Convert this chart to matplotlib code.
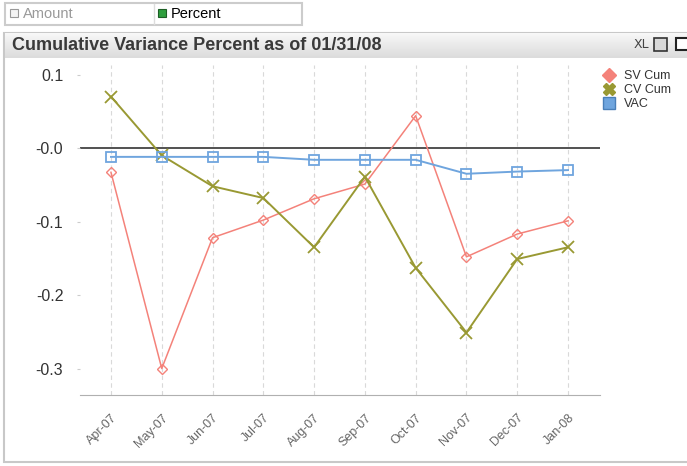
import matplotlib.pyplot as plt
import matplotlib.patches as mpatches
from matplotlib.lines import Line2D
import numpy as np

plt.rcParams['font.family'] = ['Liberation Sans', 'DejaVu Sans']

# datos
months = ["Apr-07", "May-07", "Jun-07", "Jul-07", "Aug-07", "Sep-07",
          "Oct-07", "Nov-07", "Dec-07", "Jan-08"]
sv_cum = [-0.033, -0.300, -0.122, -0.098, -0.069, -0.049, 0.044, -0.148, -0.117, -0.099]
cv_cum = [0.070, -0.010, -0.052, -0.068, -0.135, -0.039, -0.163, -0.251, -0.151, -0.135]
vac = [-0.012, -0.012, -0.012, -0.012, -0.016, -0.016, -0.016, -0.035, -0.032, -0.030]
y_ticks = [0.1, 0.0, -0.1, -0.2, -0.3]
y_labels = ["0.1", "-0.0", "-0.1", "-0.2", "-0.3"]

W, H = 687, 466
fig = plt.figure(figsize=(W / 100, H / 100), dpi=100)


def px_rect(x, y, w, h, z=-10, **kw):
    # rectangulo en pixeles (origen arriba a la izquierda)
    r = mpatches.Rectangle((x / W, 1 - (y + h) / H), w / W, h / H,
                           transform=fig.transFigure, zorder=z, **kw)
    fig.patches.append(r)
    return r


# barra de botones superior
px_rect(5, 3, 297, 22, facecolor='white', edgecolor='#cccccc', linewidth=1.5)
fig.add_artist(Line2D([154 / W, 154 / W], [1 - 4 / H, 1 - 24 / H], color='#dddddd', lw=1))
px_rect(10, 9, 8, 8, z=5, facecolor='#f4f4f4', edgecolor='#999999', linewidth=0.8)
fig.text(23 / W, 1 - 14 / H, "Amount", fontsize=10.5, color='#999999', va='center')
px_rect(158, 9, 8, 8, z=5, facecolor='#2e9e3e', edgecolor='#1d5e25', linewidth=0.8)
fig.text(162 / W, 1 - 13 / H, "✔", fontsize=5, color='black', va='center', ha='center',
         family=['DejaVu Sans'])
fig.text(171 / W, 1 - 14 / H, "Percent", fontsize=10.5, color='black', va='center')

# panel del gráfico
px_rect(4, 33, 700, 429, facecolor='white', edgecolor='#c8c8c8', linewidth=1.5)

# barra de titulo con degradado
tax = fig.add_axes([5 / W, 1 - 58 / H, (W - 5) / W, 25 / H])
grad = np.linspace(0.97, 0.86, 50).reshape(-1, 1)
tax.imshow(grad, aspect='auto', cmap='gray', vmin=0, vmax=1, extent=[0, 1, 0, 1])
tax.set_axis_off()
fig.text(12 / W, 1 - 45.5 / H, "Cumulative Variance Percent as of 01/31/08",
         fontsize=13, fontweight='bold', color='#3a3a3a', va='center')
fig.text(634 / W, 1 - 45 / H, "XL", fontsize=9, color='#444444', va='center',
         family=['DejaVu Sans Condensed', 'DejaVu Sans'])
px_rect(654, 38, 13, 13, z=5, facecolor='#d8d8d8', edgecolor='#333333', linewidth=1.2)
px_rect(676, 38, 15, 12, z=5, facecolor='white', edgecolor='#222222', linewidth=1.5)

# ejes principales
ax = fig.add_axes([80 / W, 1 - 395 / H, 520 / W, 330 / H])
ax.patch.set_alpha(0)
x = np.arange(len(months))

for xi in x:
    ax.axvline(xi, color='#d9d9d9', lw=0.8, ls=(0, (4, 3)), zorder=0)
ax.axhline(0, color='#333333', lw=1.2, zorder=1)

ax.plot(x, sv_cum, color='#f4827a', lw=1.1, marker='D', ms=5.5, mfc='none',
        mec='#f4827a', mew=1, zorder=3)
ax.plot(x, cv_cum, color='#999933', lw=1.4, marker='x', ms=8, mew=1.3, zorder=3)
ax.plot(x, vac, color='#6fa5de', lw=1.4, marker='s', ms=7.5, mfc='none',
        mec='#6fa5de', mew=1.3, zorder=4)

ax.set_xlim(-0.61, 9.63)
ax.set_ylim(-0.336, 0.113)
ax.set_yticks(y_ticks)
ax.set_yticklabels(y_labels)
ax.set_xticks(x)
ax.set_xticklabels(months, rotation=45, ha='right', rotation_mode='anchor')

for s in ['top', 'right', 'left']:
    ax.spines[s].set_visible(False)
ax.spines['bottom'].set_color('#b0b0b0')
ax.tick_params(axis='y', length=2, color='#cccccc', labelsize=11.5, labelcolor='#333333', pad=10)
ax.tick_params(axis='x', length=0, labelsize=9, labelcolor='#666666', pad=12)

# leyenda
handles = [
    Line2D([], [], ls='none', marker='D', ms=7, mfc='#f4827a', mec='#f4827a'),
    Line2D([], [], ls='none', marker='X', ms=9, mfc='#999933', mec='#999933'),
    Line2D([], [], ls='none', marker='s', ms=8, mfc='#6fa5de', mec='#4a7fb8'),
]
leg = fig.legend(handles, ["SV Cum", "CV Cum", "VAC"], loc='upper left',
                 bbox_to_anchor=(595 / W, 1 - 64 / H), frameon=False, fontsize=9,
                 handlelength=1.2, handletextpad=0.6, labelspacing=0.15, borderpad=0)
for t in leg.get_texts():
    t.set_color('#333333')

fig.savefig("out.png", dpi=100)
